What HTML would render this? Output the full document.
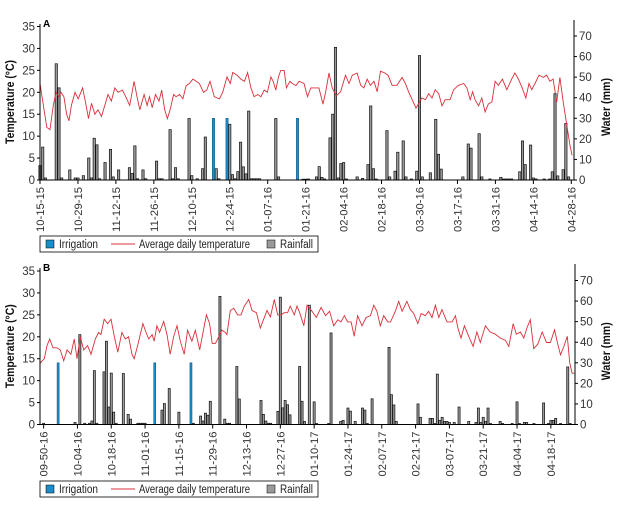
<!DOCTYPE html>
<html><head><meta charset="utf-8"><style>
html,body{margin:0;padding:0;background:#fff;}
svg{display:block;font-family:"Liberation Sans",sans-serif;}
</style></head><body>
<svg id="chart" width="617" height="508" viewBox="0 0 617 508"></svg>
<script>
// ---------- Panel A data ----------
const aTickLabels = ["10-15-15","10-29-15","11-12-15","11-26-15","12-10-15","12-24-15","01-07-16","01-21-16","02-04-16","02-18-16","03-30-16","03-17-16","03-31-16","04-14-16","04-28-16"];
const aRainDays = [0,1,2,6,7,8,11,13,14,16,18,19,20,21,22,24,26,27,29,33,34,35,36,38,39,43,44,45,48,49,50,51,55,56,58,60,61,65,66,70,71,72,73,74,75,76,77,78,79,80,81,87,88,97,98,99,102,103,104,105,107,108,109,110,111,112,113,117,119,121,122,123,124,128,129,131,132,134,135,137,139,140,141,144,146,147,148,156,158,159,162,163,166,170,171,172,173,174,177,178,179,181,182,183,186,188,189,190,191,193,194,195];
const aRain = [7,16,1,56.5,44.8,1,4.9,1,1,2.1,10.7,1,20.3,17.1,0.6,8.5,14.9,1.5,4.9,6,3.2,16.6,0.6,4.9,0.6,9.2,0.6,0.6,24.5,0.6,6,0.6,29.9,2.1,0.6,5.5,20.9,5.5,0.6,27.1,2.6,0.6,4.1,18.4,6.4,3,33.5,0.6,0.6,0.6,0.6,29.9,1.5,0.4,0.4,0.5,1.5,6.5,1.3,0.5,20.5,32,64.5,1,8,8.5,0.5,1.5,0.8,7.5,36,5.5,0.5,24,1.5,4.3,13.5,19,1.5,0.5,4.3,60.5,1.5,3.5,29.5,12.5,5.3,1.5,17.5,15.5,22.5,1.5,0.5,1.3,0.5,0.5,0.5,0.5,4,19,7.5,17,1,0.5,0.5,0.5,4,42,2,5,27.5,1.5];
const aIrrDays = [64,69,95];
const aIrr = [30,30,30];
const aTempDays = [0,1,2.5,3.7,4.9,5.9,6.9,7.7,8.8,9.8,10.7,11.6,12.9,14.1,15.7,16.7,17.9,19,20.2,21.4,22.7,23.9,25.1,26.3,27.6,28.8,30.4,31.6,33.1,34.7,35.8,36.8,38.4,39.5,40.4,41.4,42.6,43.9,44.9,46,47,48,49.3,50.2,51.5,52.7,53.9,55.1,56.4,57.6,58.8,60.3,61.5,62.7,64.3,66.2,67.4,69,70.2,71.1,72.5,74.1,75.4,76.6,77.8,79,80.3,81.5,82.7,83.9,85.2,86,87,88,88.8,90.1,90.9,92.2,93.1,94.4,95.6,97.4,98.7,99.9,101.1,102.9,104.4,105.4,106.6,107.8,109.3,110.9,112.7,114,115.2,117,118.3,119.5,120.7,121.9,123.2,124.4,125.6,127.2,128.4,129.9,131.7,133.6,134.8,136,137.3,138.7,140,140.9,142.2,143.4,144.6,145.8,147.1,148.3,149.5,151.3,152.6,154.4,156.3,157.5,158.7,159.6,160.5,161.8,163,164.2,165.4,166.7,167.9,169.1,170.6,172.2,174,175.2,176.5,177.9,179.2,180.4,181.4,182.6,184.1,185.7,186.9,188.1,189.3,190.6,191.8,193,194.2,195.5,196.3];
const aTemp = [22,18,12,11.5,17,20,19,20,19,15,13.5,17,20,18.5,21,18,14,17.5,15,16,14.5,17,19.5,18,21,20,20.5,19,17,22.5,19,16,19.5,17,19,16.5,19.5,18,20.5,16,14,16,19.5,19,19.5,18.5,21.5,22,23,22.5,22,20,20.5,22.5,19,18.5,20,23.5,22,24.5,24,23,22.5,24.5,21,19,19.5,19,20.5,20,23.5,22.5,20.5,23.5,25,25,21,22.5,22,21.5,22.5,22,19,21,21,21,17.3,20.1,24.4,21,19.2,20.1,23.9,22,23.9,24.4,21.6,21,23,21.6,22.5,20.1,24.8,24.4,23.9,21.6,21.6,23.4,22,20.1,18.3,16.4,17.8,18.7,18.3,19.7,18.7,20.6,19.7,16.9,18.3,18.3,20.6,21.6,22,21,18.3,20.1,18.3,16.9,18.7,15.5,17.3,17.8,22.5,21.6,23,20.6,23,24.4,23,21,18.7,22,20.6,22,23.9,23.4,23.9,22.5,23,17.8,23.4,17.8,13.1,8,5.6];

// ---------- Panel B data ----------
const bTickLabels = ["09-50-16","10-04-16","10-18-16","11-01-16","11-15-16","11-29-16","12-13-16","12-27-16","01-10-17","01-24-17","02-07-17","02-21-17","03-07-17","03-21-17","04-04-17","04-18-17"];
const bRainDays = [0,13,15,17,19,20,21,22,25,26,27,28,29,30,33,35,36,39,40,41,42,49,50,52,56,62,65,66,67,68,69,73,75,76,77,80,81,90,91,92,93,94,97,98,99,100,101,102,106,107,108,110,112,113,118,119,123,124,126,127,129,132,133,134,136,143,144,145,146,155,156,160,161,162,163,164,165,166,167,168,170,172,176,179,180,181,182,183,184,185,189,190,194,196,197,199,200,203,207,209,210,211,212,214,217,218];
const bRain = [0.6,1,43.7,0.6,0.6,1.7,26.2,0.6,25.6,40.5,8.5,25,6,0.6,24.8,4.9,2.6,0.6,0.6,0.6,0.6,7,10.2,17.5,6,0.6,4.1,1.7,5.5,4.5,11.3,62.3,2.6,0.6,0.6,28.2,12.4,11.7,4.9,1.7,0.6,0.6,6.4,61.9,8.1,11.7,9.6,4.7,28.2,11.3,1.5,58,11,0.5,0.5,44.5,1.5,2,8,6.5,1.5,8,7,0.5,12.5,37.5,14.5,9.5,1.5,10,3.5,3,3,0.5,24.5,2,3.5,1.5,1.5,1,1,8.5,1.5,1,8,1,3.5,1.5,8,0.5,1.5,0.5,0.5,11,0.5,1,1,0.5,10.5,0.5,2,2,3,0.5,28,0.5];
const bIrrDays = [6,46,61];
const bIrr = [30,30,30];
const bTempDays = [-1.4,0.3,1.4,2.5,3.9,5.5,6.9,8.3,9.7,11.3,12.7,13.8,15.2,16.6,18.2,19.6,21.4,22.8,23.7,25.1,26.5,27.9,29.3,30.7,32.4,33.8,35.2,36.6,37.5,38.9,41.1,42.4,43.5,44.9,45.8,46.9,48,49.7,51.1,52.4,53.8,55.2,56.6,58.2,59.6,61.4,62.8,64.6,66,67.4,68.7,69.8,71.1,72.5,73.8,75.2,75.9,77.3,78.7,80.3,81.7,83.1,84.9,86.3,88.1,89.7,91.1,92.5,93.9,95.5,96.9,98.3,99.6,101,102.1,103.8,104.9,106,107.7,109.1,111.1,112.9,114.9,116.7,118.4,120.1,121.8,123.1,124.5,125.9,127.3,128.6,130,131.8,133.5,135.3,136.7,138,139.4,140.8,142.5,143.6,145.6,147,148.4,150.4,151.8,153.2,154.9,156.3,158,159.4,160.8,162.2,163.6,164.9,167,169.1,170.5,171.5,172.8,174.2,176,177.8,179.4,180.8,182.9,184.9,187,189.1,191.2,192.6,194.4,195.7,197.4,198.8,200.1,201.5,202.9,204.6,206.4,208.2,209.8,211.5,212.7,214,215.4,216.8,217.8,218.8,219.7];
const bTemp = [14,15,18,19.5,17.5,17.5,17,14.5,17,16,19.5,15,20,17,18,16,19.5,21,20.5,24,23,24,20,16.5,21,19.5,20,16,15,18,23,21,19.5,20.5,19,22.5,21,23.5,20.5,16,20,22.5,19,16,21.5,19,21.5,17,21,25,23,18.5,18.5,20,21.5,21,20.5,26,26.5,25,25,27,28.5,26,25.5,22,24,26,24.5,28.5,25,25,25.5,25.5,27,25,27,25.5,22.5,27.2,25.8,24.4,26.7,24.8,25.8,22.5,23.9,23.4,24.8,23.4,23.4,20.1,24.8,22.5,24.4,24.8,27.2,25.8,22.5,24.8,23.4,23.4,25.8,28.1,25.8,28.1,26.2,25.3,23,25.3,24.8,25.8,24.4,27.2,24.4,26.2,23.4,23.4,24.8,22,19.7,22.5,20.1,17.8,21.1,18.7,22.5,21.1,20.6,19.7,19.2,17.8,23,20.6,21.1,19.7,22,23.9,17.3,18.3,21.1,18.7,18.7,21.6,18.7,15.9,17.8,20.1,14.1,11.7,11.7];

const tempTicks = [0,5,10,15,20,25,30,35];
const waterTicks = [0,10,20,30,40,50,60,70];

const NS = "http://www.w3.org/2000/svg";
const svg = document.getElementById("chart");
function mk(tag, attrs, parent) {
  const e = document.createElementNS(NS, tag);
  for (const k in attrs) e.setAttribute(k, attrs[k]);
  (parent || svg).appendChild(e);
  return e;
}

function panel(cfg) {
  const g = mk("g", {});
  
  
  const x = d => cfg.x0 + (d - cfg.d0) / (cfg.d1 - cfg.d0) * (cfg.x1 - cfg.x0);
  const yT = v => cfg.yBase - v * (153.5 / 35);
  const yW = v => cfg.yBase - v * (144 / 70);
  const bw = cfg.bw;
  cfg.rainDays.forEach((d, i) => {
    const h = cfg.yBase - yW(cfg.rain[i]);
    const r = mk("rect", {x: x(d) - bw / 2, y: yW(cfg.rain[i]), width: bw, height: Math.max(h, 0.8), fill: "#9a9a9a", stroke: "#111", "stroke-width": 0.7}, g);
    
    
  });
  cfg.irrDays.forEach((d, i) => {
    const r = mk("rect", {x: x(d) - bw / 2, y: yW(cfg.irr[i]), width: bw, height: cfg.yBase - yW(cfg.irr[i]), fill: "#1b8ccc", stroke: "#0d4f7a", "stroke-width": 0.5}, g);
    
    
  });
  const pts = cfg.tempDays.map((d, i) => x(d).toFixed(1) + "," + yT(cfg.temp[i]).toFixed(1)).join(" ");
  const ln = mk("polyline", {points: pts, fill: "none", stroke: "#d8303a", "stroke-width": 0.9}, g);
  
  
  const ax = mk("path", {d: `M${cfg.x0},${cfg.yTop} V${cfg.yBase} H${cfg.x1} V${cfg.yTop - 4}`, fill: "none", stroke: "#000", "stroke-width": 1}, g);
  
  
  tempTicks.forEach(v => {
    mk("line", {x1: cfg.x0 - 3, x2: cfg.x0, y1: yT(v), y2: yT(v), stroke: "#000"}, g);
    const t = mk("text", {x: cfg.x0 - 5, y: yT(v) + 4, "text-anchor": "end", "font-size": 11.5, fill: "#333"}, g);
    t.textContent = v;
    
    
  });
  waterTicks.forEach(v => {
    mk("line", {x1: cfg.x1, x2: cfg.x1 + 3, y1: yW(v), y2: yW(v), stroke: "#000"}, g);
    const t = mk("text", {x: cfg.x1 + 5, y: yW(v) + 4, "font-size": 11.5, fill: "#333"}, g);
    t.textContent = v;
    
    
  });
  cfg.ticks.forEach((lab, i) => {
    const xx = x(cfg.tick0 + i * 14);
    mk("line", {x1: xx, x2: xx, y1: cfg.yBase, y2: cfg.yBase + 4, stroke: "#000"}, g);
    const t = mk("text", {x: 0, y: 0, "text-anchor": "end", "font-size": 11, fill: "#333", textLength: 45, lengthAdjust: "spacingAndGlyphs", transform: `translate(${xx + 4},${cfg.yBase + 7}) rotate(-90)`}, g);
    t.textContent = lab;
    
    
  });
  const pl = mk("text", {x: cfg.x0 + 3, y: cfg.yTop + 3, "font-size": 10, "font-weight": "bold", fill: "#000"}, g);
  pl.textContent = cfg.label;
  
  
  const mid = (cfg.yTop + cfg.yBase) / 2;
  const lt = mk("text", {x: 0, y: 0, "text-anchor": "middle", "font-size": 11.5, "font-weight": "bold", fill: "#111", textLength: 84, lengthAdjust: "spacingAndGlyphs", transform: `translate(14,${mid}) rotate(-90)`}, g);
  lt.textContent = "Temperature (°C)";
  
  
  const rt = mk("text", {x: 0, y: 0, "text-anchor": "middle", "font-size": 11.5, "font-weight": "bold", fill: "#111", textLength: 58, lengthAdjust: "spacingAndGlyphs", transform: `translate(610,${mid + 5}) rotate(-90)`}, g);
  rt.textContent = "Water (mm)";
  
  
  const lg = mk("g", {}, g);
  
  
  const ly = cfg.legY;
  mk("rect", {x: 40, y: ly, width: 278, height: 16, fill: "#fff", stroke: "#000", "stroke-width": 0.8}, lg);
  const e1 = mk("rect", {x: 46, y: ly + 4, width: 8, height: 8, fill: "#1b8ccc", stroke: "#000", "stroke-width": 0.5}, lg);
  
  
  const t1 = mk("text", {x: 59, y: ly + 12, "font-size": 11.5, fill: "#222", textLength: 39, lengthAdjust: "spacingAndGlyphs"}, lg);
  t1.textContent = "Irrigation";
  mk("line", {x1: 111, x2: 135, y1: ly + 8, y2: ly + 8, stroke: "#d8303a", "stroke-width": 1}, lg);
  const t2 = mk("text", {x: 139, y: ly + 12, "font-size": 11.5, fill: "#222", textLength: 111, lengthAdjust: "spacingAndGlyphs"}, lg);
  t2.textContent = "Average daily temperature";
  mk("rect", {x: 267, y: ly + 4, width: 8, height: 8, fill: "#9a9a9a", stroke: "#000", "stroke-width": 0.5}, lg);
  const t3 = mk("text", {x: 280, y: ly + 12, "font-size": 11.5, fill: "#222", textLength: 33, lengthAdjust: "spacingAndGlyphs"}, lg);
  t3.textContent = "Rainfall";
}

panel({name: "panel-a", label: "A", x0: 40, x1: 574, d0: 0, d1: 197, tick0: 0, yBase: 180, yTop: 24, bw: 2.3, legY: 236,
  ticks: aTickLabels, rainDays: aRainDays, rain: aRain, irrDays: aIrrDays, irr: aIrr, tempDays: aTempDays, temp: aTemp});
panel({name: "panel-b", label: "B", x0: 40, x1: 575, d0: -1.5, d1: 220, tick0: 0, yBase: 424.5, yTop: 268, bw: 2.1, legY: 481,
  ticks: bTickLabels, rainDays: bRainDays, rain: bRain, irrDays: bIrrDays, irr: bIrr, tempDays: bTempDays, temp: bTemp});
</script>
</body></html>
